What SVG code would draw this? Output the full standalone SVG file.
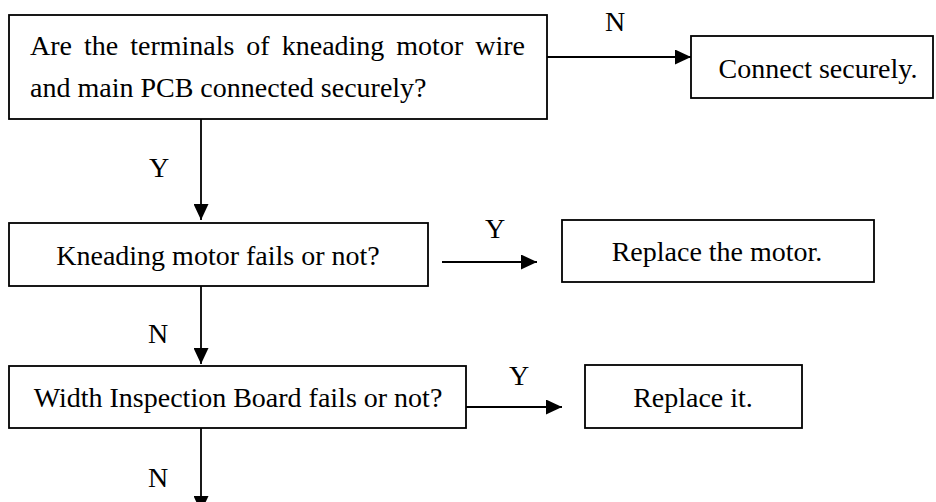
<svg xmlns="http://www.w3.org/2000/svg" width="936" height="502" viewBox="0 0 936 502">
<style>
.box{fill:#fff;stroke:#000;stroke-width:1.8}
.t{font-family:"Liberation Serif","Times New Roman",serif;font-size:28px;fill:#000}
.c{text-anchor:middle}
.edge{stroke:#000;stroke-width:1.8;fill:none}
</style>
<defs>
<marker id="ah" viewBox="0 0 16 15" refX="16" refY="7.5" markerWidth="16" markerHeight="15" markerUnits="userSpaceOnUse" orient="auto">
<path d="M0,0 L16,7.5 L0,15 Z" fill="#000"/>
</marker>
</defs>
<g id="connectors">
<line class="edge" x1="547" y1="57" x2="691" y2="57" marker-end="url(#ah)"/>
<text class="t c" x="615" y="31">N</text>
<line class="edge" x1="201" y1="119" x2="201" y2="220" marker-end="url(#ah)"/>
<text class="t c" x="159" y="177">Y</text>
<line class="edge" x1="442" y1="262" x2="537" y2="262" marker-end="url(#ah)"/>
<text class="t c" x="495" y="238">Y</text>
<line class="edge" x1="201" y1="286" x2="201" y2="364" marker-end="url(#ah)"/>
<text class="t c" x="158" y="343">N</text>
<line class="edge" x1="466" y1="407" x2="562" y2="407" marker-end="url(#ah)"/>
<text class="t c" x="519" y="385">Y</text>
<line class="edge" x1="201" y1="428" x2="201" y2="512" marker-end="url(#ah)"/>
<text class="t c" x="158" y="487">N</text>
</g>
<g id="q1">
<rect class="box" x="9" y="15" width="538" height="104"/>
<text class="t" x="30" y="55" word-spacing="5">Are the terminals of kneading motor  wire</text>
<text class="t" x="30" y="97">and main PCB connected securely?</text>
</g>
<g id="a1">
<rect class="box" x="691" y="36" width="242" height="62"/>
<text class="t c" x="818" y="78">Connect securely.</text>
</g>
<g id="q2">
<rect class="box" x="9" y="223" width="419" height="63"/>
<text class="t c" x="218" y="265">Kneading motor fails or not?</text>
</g>
<g id="a2">
<rect class="box" x="562" y="220" width="312" height="62"/>
<text class="t c" x="717" y="261">Replace the motor.</text>
</g>
<g id="q3">
<rect class="box" x="9" y="366" width="457" height="62"/>
<text class="t c" x="238" y="407">Width Inspection Board fails or not?</text>
</g>
<g id="a3">
<rect class="box" x="585" y="365" width="217" height="63"/>
<text class="t c" x="693" y="407">Replace it.</text>
</g>
</svg>
